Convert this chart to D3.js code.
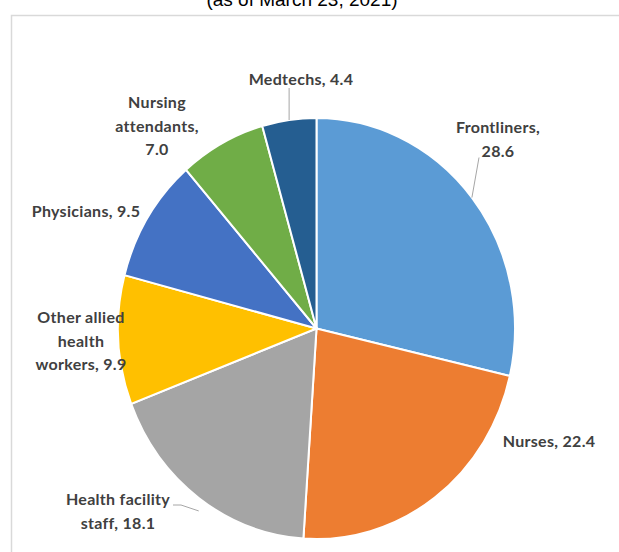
<!DOCTYPE html>
<html>
<head>
<meta charset="utf-8">
<script src="https://cdn.jsdelivr.net/npm/d3@7"></script>
<style>
  body { margin: 0; background: #fff; }
  svg { display: block; }
</style>
</head>
<body>
<div id="chart"></div>
<script>
(function () {
    'use strict';

    // data, clockwise from 12 o'clock
    var categories = ['Frontliners', 'Nurses', 'Health facility staff', 'Other allied health workers',
        'Physicians', 'Nursing attendants', 'Medtechs'];
    var values = [28.6, 22.4, 18.1, 9.9, 9.5, 7.0, 4.4];
    var labelLines = [
        ['Frontliners,', '28.6'],
        ['Nurses, 22.4'],
        ['Health facility', 'staff, 18.1'],
        ['Other allied', 'health', 'workers, 9.9'],
        ['Physicians, 9.5'],
        ['Nursing', 'attendants,', '7.0'],
        ['Medtechs, 4.4']
    ];
    var colors = ['#5b9bd5', '#ed7d31', '#a5a5a5', '#ffc000', '#4472c4', '#70ad47', '#255e91'];

    // layout (label anchors follow Excel's best-fit placement)
    var labelAt = [[498, 128], [549, 442], [118, 500], [81, 318], [86, 212], [157, 103], [301, 80]];
    var leader = [true, false, true, false, false, false, true];

    var width = 619, height = 552;
    var cx = 316.5, cy = 328.5, rx = 198.5, ry = 210.5;
    var lineH = 23.5;

    var svg = d3.select('#chart').append('svg')
        .attr('width', width)
        .attr('height', height);

    // title, cut off at the top of the crop
    svg.append('text')
        .attr('x', 302)
        .attr('y', 6)
        .attr('text-anchor', 'middle')
        .style('font-family', 'Liberation Sans, Arial, sans-serif')
        .style('font-size', '19px')
        .style('fill', '#000')
        .text('(as of March 23, 2021)');

    // chart area frame
    svg.append('rect')
        .attr('x', 11.5)
        .attr('y', 15.5)
        .attr('width', 640)
        .attr('height', 600)
        .attr('fill', 'none')
        .attr('stroke', '#d9d9d9')
        .attr('stroke-width', 1.5);

    var pie = d3.pie().sort(null).value(function (d) { return d; });
    var arcs = pie(values);
    var arc = d3.arc().innerRadius(0).outerRadius(ry);

    var g = svg.append('g')
        .attr('transform', 'translate(' + cx + ',' + cy + ') scale(' + (rx / ry) + ',1)');

    g.selectAll('path.slice')
        .data(arcs)
        .enter()
        .append('path')
        .attr('class', 'slice')
        .attr('d', arc)
        .attr('fill', function (d, i) { return colors[i]; })
        .attr('stroke', '#fff')
        .attr('stroke-width', 2)
        .attr('vector-effect', 'non-scaling-stroke');

    function edgePoint(d) {
        var a = (d.startAngle + d.endAngle) / 2;
        return [cx + rx * Math.sin(a), cy - ry * Math.cos(a)];
    }

    // leader lines from the label to the slice edge
    arcs.forEach(function (d, i) {
        if (!leader[i]) { return; }
        var p = edgePoint(d);
        var lab = labelAt[i];
        var n = labelLines[i].length;
        var sx, sy;
        if (i === 0) { sx = lab[0] - 19; sy = lab[1] + lineH * (n - 1) + 6; }
        else if (i === 2) { sx = lab[0] + 55; sy = lab[1] + 5; }
        else { sx = p[0]; sy = lab[1] + 8; }
        var pts = (i === 2) ? [[sx, sy], [sx + 8, sy], [p[0], p[1] + 13]] : [[sx, sy], [p[0], p[1]]];
        svg.append('path')
            .attr('d', d3.line()(pts))
            .attr('fill', 'none')
            .attr('stroke', '#a6a6a6')
            .attr('stroke-width', 1);
    });

    var labels = svg.selectAll('text.label')
        .data(arcs)
        .enter()
        .append('text')
        .attr('class', 'label')
        .attr('text-anchor', 'middle')
        .style('font-family', 'Lato, "Open Sans", sans-serif')
        .style('font-weight', 'bold')
        .style('font-size', '16px')
        .style('letter-spacing', '0.3px')
        .style('fill', '#404040');

    labels.each(function (d, i) {
        var t = d3.select(this);
        labelLines[i].forEach(function (line, k) {
            t.append('tspan')
                .attr('x', labelAt[i][0])
                .attr('y', labelAt[i][1] + k * lineH + 5)
                .text(line);
        });
    });
})();
</script>
</body>
</html>
